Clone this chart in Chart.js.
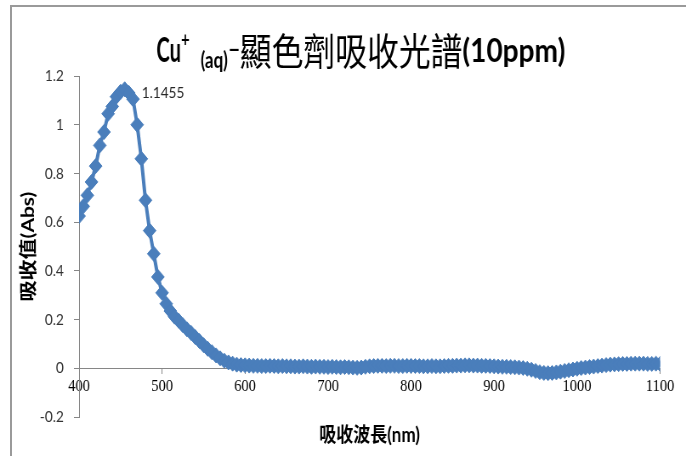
<!DOCTYPE html>
<html>
<head>
<meta charset="utf-8">
<script src="https://cdn.jsdelivr.net/npm/chart.js@4.4.1/dist/chart.umd.min.js"></script>
<style>
  html, body { margin: 0; padding: 0; background: #fff; overflow: hidden; }
  #stage { position: relative; width: 686px; height: 456px; overflow: hidden; background: #fff; }
  #frame { position: absolute; left: 10px; top: 5px; width: 700px; height: 480px;
           border-top: 2px solid #9a9a9a; border-left: 2px solid #9a9a9a; box-sizing: border-box; }
  #wrap { position: absolute; left: 0; top: 0; width: 807px; height: 456px;
          transform: scaleX(0.85006); transform-origin: 0 0; }
  canvas { display: block; }
</style>
</head>
<body>
<div id="stage">
  <div id="frame"></div>
  <div id="wrap"><canvas id="c" width="807" height="456" style="width:807px;height:456px"></canvas></div>
</div>
<script>
// ---- data ----
const wavelengths = [
  400,405,410,415,420,425,430,435,440,445,
  450,455,460,465,470,475,480,485,490,495,
  500,505,510,515,520,525,530,535,540,545,
  550,555,560,565,570,575,580,585,590,595,
  600,605,610,615,620,625,630,635,640,645,
  650,655,660,665,670,675,680,685,690,695,
  700,705,710,715,720,725,730,735,740,745,
  750,755,760,765,770,775,780,785,790,795,
  800,805,810,815,820,825,830,835,840,845,
  850,855,860,865,870,875,880,885,890,895,
  900,905,910,915,920,925,930,935,940,945,
  950,955,960,965,970,975,980,985,990,995,
  1000,1005,1010,1015,1020,1025,1030,1035,1040,1045,
  1050,1055,1060,1065,1070,1075,1080,1085,1090,1095,
  1100
];
const absorbance = [
  0.625,0.665,0.71,0.765,0.83,0.915,0.97,1.045,1.075,1.115,
  1.135,1.1455,1.13,1.105,1.0,0.86,0.69,0.565,0.47,0.375,
  0.31,0.265,0.235,0.212,0.195,0.177,0.16,0.145,0.128,0.112,
  0.095,0.08,0.066,0.053,0.041,0.031,0.024,0.019,0.015,0.013,
  0.012,0.011,0.010,0.010,0.009,0.009,0.010,0.009,0.008,0.009,
  0.008,0.008,0.007,0.007,0.008,0.007,0.006,0.007,0.006,0.006,
  0.005,0.006,0.005,0.004,0.005,0.004,0.003,0.002,0.003,0.006,
  0.008,0.009,0.010,0.010,0.009,0.010,0.010,0.009,0.009,0.010,
  0.010,0.009,0.009,0.008,0.008,0.009,0.008,0.008,0.009,0.010,
  0.010,0.011,0.011,0.012,0.012,0.011,0.011,0.010,0.010,0.009,
  0.008,0.007,0.006,0.006,0.005,0.004,0.003,0.001,-0.002,-0.006,
  -0.011,-0.016,-0.019,-0.020,-0.019,-0.017,-0.014,-0.011,-0.008,-0.005,
  -0.002,0.001,0.003,0.005,0.007,0.009,0.011,0.013,0.015,0.016,
  0.017,0.018,0.018,0.019,0.019,0.019,0.019,0.018,0.018,0.019,
  0.018
];
const xTicks = [400,500,600,700,800,900,1000,1100];
const yTicks = [-0.2,0,0.2,0.4,0.6,0.8,1.0,1.2];
const peakLabel = '1.1455';
const xTitle = '吸收波長(nm)';
const yTitle = '吸收值(Abs)';
const titleParts = ['Cu', '+', '(aq)', '–', '顯色劑吸收光譜', '(10ppm)'];

// ---- drawing ----
const BLUE = '#4a7ebb';
const AXIS = '#868686';

const textPlugin = {
  id: 'texts',
  afterDraw(chart) {
    const ctx = chart.ctx;
    const ca = chart.chartArea;
    ctx.save();
    ctx.fillStyle = '#000';
    ctx.textAlign = 'left';
    ctx.textBaseline = 'alphabetic';
    // title with superscript / subscript parts
    const spec = [
      { font: 'bold 34px Lato', x: 184, y: 62, w: 29 },
      { font: 'bold 20px Lato', x: 213, y: 47, w: 10 },
      { font: 'bold 23px Lato', x: 236, y: 68, w: 32 },
      { font: '32px Lato', x: 268, y: 60, w: 15 },
      { font: '38px "Noto Sans CJK TC"', x: 282, y: 65, w: 262 },
      { font: 'bold 33px Lato', x: 544, y: 62, w: 127 }
    ];
    titleParts.forEach((t, i) => {
      ctx.font = spec[i].font;
      ctx.fillText(t, spec[i].x, spec[i].y, spec[i].w);
    });

    // axis titles
    ctx.font = 'bold 20px Lato, "Noto Sans CJK TC"';
    ctx.textAlign = 'center';
    ctx.textBaseline = 'middle';
    ctx.fillText(xTitle, (ca.left + ca.right) / 2, 436);
    ctx.save();
    ctx.font = 'bold 21px Lato, "Noto Sans CJK TC"';
    ctx.translate(33, (ca.top + ca.bottom) / 2);
    ctx.rotate(-Math.PI / 2);
    ctx.fillText(yTitle, 0, 0);
    ctx.restore();

    // peak data label
    let iMax = 0;
    absorbance.forEach((v, i) => { if (v > absorbance[iMax]) iMax = i; });
    const px = chart.scales.x.getPixelForValue(wavelengths[iMax]);
    const py = chart.scales.y.getPixelForValue(absorbance[iMax]);
    ctx.font = '16px Lato';
    ctx.fillStyle = '#262626';
    ctx.textAlign = 'left';
    ctx.textBaseline = 'middle';
    ctx.fillText(peakLabel, px + 20, py + 4);
    ctx.restore();
  }
};

new Chart(document.getElementById('c'), {
  type: 'scatter',
  data: {
    datasets: [{
      data: wavelengths.map((w, i) => ({ x: w, y: absorbance[i] })),
      showLine: true,
      tension: 0,
      borderColor: BLUE,
      backgroundColor: BLUE,
      borderWidth: 4,
      pointStyle: 'rectRot',
      pointRadius: 7.5,
      pointBorderWidth: 1,
      pointBorderColor: BLUE,
      pointBackgroundColor: BLUE
    }]
  },
  options: {
    responsive: false,
    animation: false,
    devicePixelRatio: 1,
    layout: { padding: { left: 0, top: 76, right: 30.5, bottom: 39 } },
    plugins: { legend: { display: false }, tooltip: { enabled: false }, title: { display: false } },
    scales: {
      x: {
        type: 'linear',
        position: { y: 0 },
        min: 400, max: 1100,
        afterBuildTicks: a => { a.ticks = xTicks.map(v => ({ value: v })); },
        border: { display: true, color: AXIS, width: 1 },
        grid: { display: true, drawOnChartArea: false, drawTicks: true, tickLength: 5, color: AXIS },
        ticks: {
          font: { family: "'Liberation Serif', 'DejaVu Serif', serif", size: 17 }, color: '#000',
          padding: 3, maxRotation: 0, callback: v => String(v)
        }
      },
      y: {
        type: 'linear',
        position: 'left',
        min: -0.2, max: 1.2,
        afterBuildTicks: a => { a.ticks = yTicks.map(v => ({ value: v })); },
        afterFit: s => { s.width = 93; },
        border: { display: true, color: AXIS, width: 1 },
        grid: { display: true, drawOnChartArea: false, drawTicks: true, tickLength: 6, color: AXIS },
        ticks: {
          font: { family: 'Lato', size: 16 }, color: '#333', padding: 12,
          callback: v => String(Math.round(v * 10) / 10)
        }
      }
    }
  },
  plugins: [textPlugin]
});
</script>
</body>
</html>
